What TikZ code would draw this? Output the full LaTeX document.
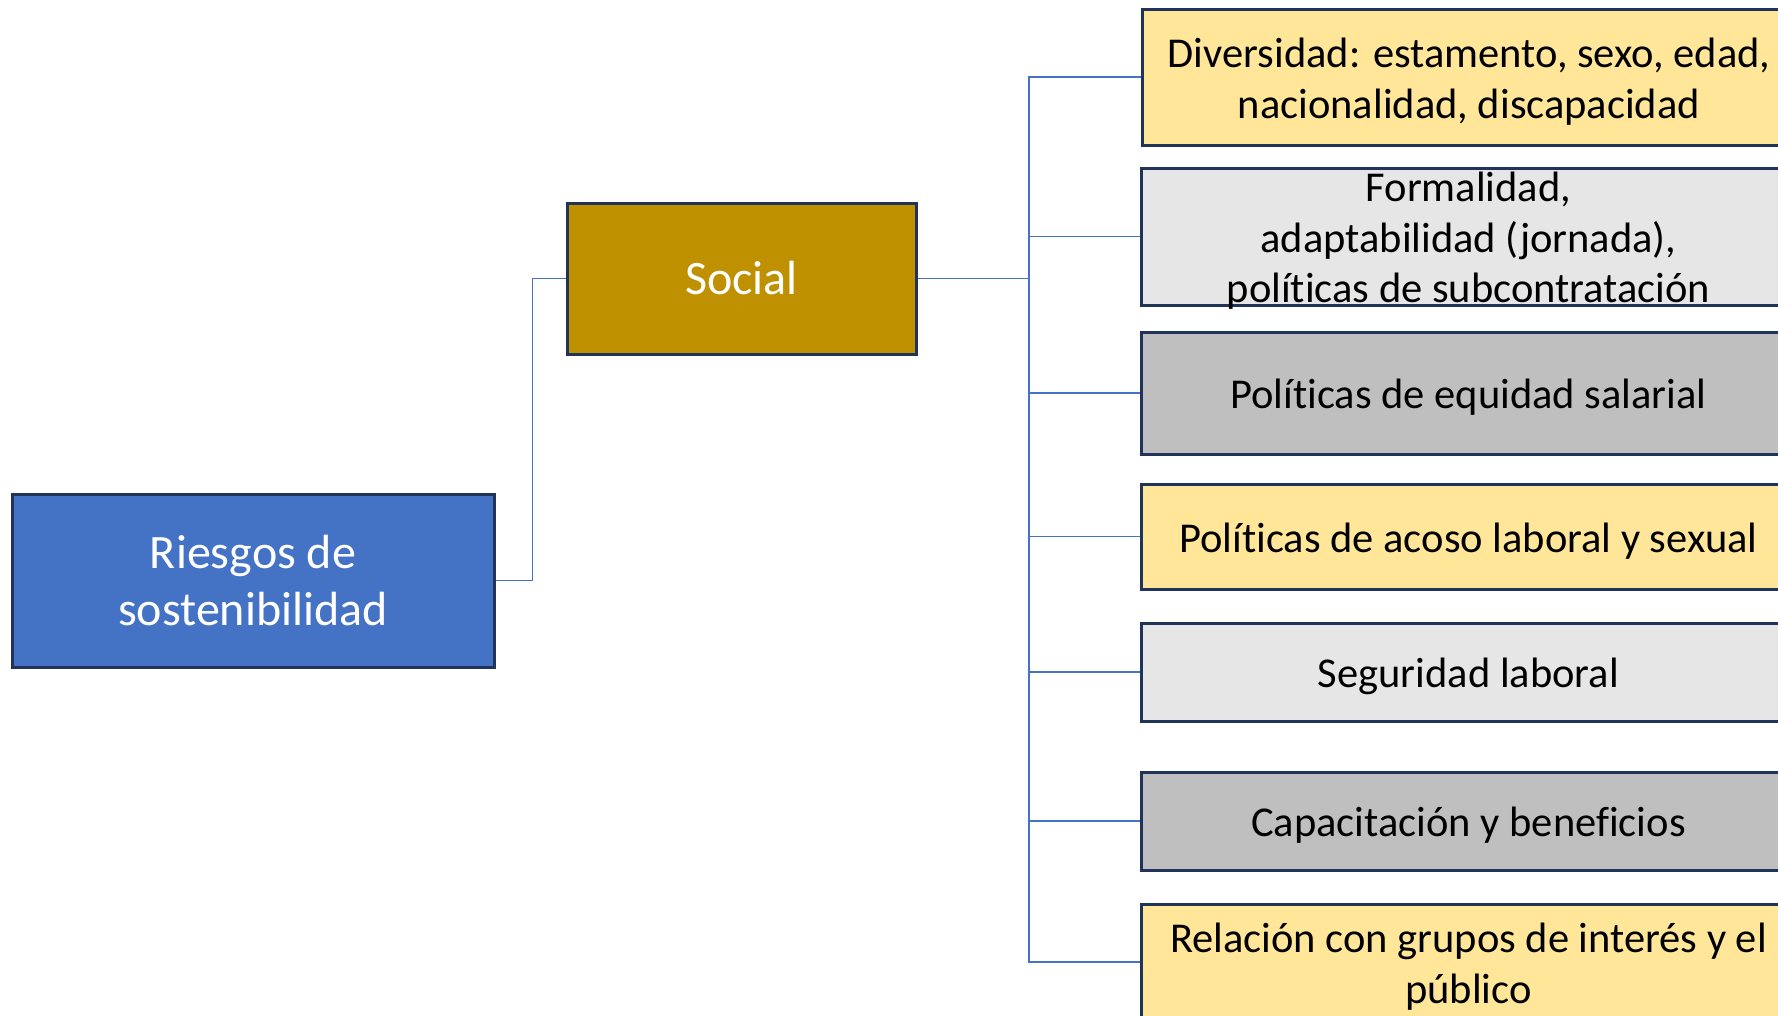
\documentclass[tikz,border=0pt]{standalone}
\usepackage{fontspec}
\setmainfont{Carlito}[Ligatures=NoCommon]
\definecolor{bluefill}{HTML}{4472C4}
\definecolor{goldfill}{HTML}{BF9000}
\definecolor{yellowfill}{HTML}{FFE699}
\definecolor{lightgrey}{HTML}{E7E6E6}
\definecolor{midgrey}{HTML}{BFBFBF}
\definecolor{navyline}{HTML}{1F3458}
\definecolor{connline}{HTML}{4472C4}
\tikzset{
  box/.style={draw=navyline, line width=3pt, rectangle, align=center, inner sep=0pt},
  mainbox/.style={box, text=white, font=\fontsize{48}{57}\selectfont},
  leaf/.style={box, minimum width=655pt},
  leaftext/.style={text=black, align=center, inner sep=0pt, yshift=-4.5pt, font=\fontsize{42.5}{50.5}\selectfont},
  conn/.style={draw=connline, line width=1.5pt}
}
\begin{document}
\begin{tikzpicture}[x=1pt,y=-1pt]
\clip (0,0) rectangle (1778,1015);
\fill[white] (0,0) rectangle (1778,1015);
\node[mainbox, fill=bluefill, minimum width=482pt, minimum height=173pt] (riesgos) at (253,580.5) {Riesgos de\\sostenibilidad};
\node[mainbox, fill=goldfill, minimum width=349pt, minimum height=151pt] (social) at (741.5,278.5) {Social};
\node[leaf, fill=yellowfill, minimum width=654pt, minimum height=136pt,
  label={[leaftext]center:{Diversidad: estamento, sexo, edad,\\nacionalidad, discapacidad}}] (b1) at (1469,77) {};
\node[leaf, fill=lightgrey, minimum height=137pt,
  label={[leaftext]center:{Formalidad,\\adaptabilidad (jornada),\\políticas de subcontratación}}] (b2) at (1468.5,236.5) {};
\node[leaf, fill=midgrey, minimum height=122pt,
  label={[leaftext]center:{Políticas de equidad salarial}}] (b3) at (1468.5,393) {};
\node[leaf, fill=yellowfill, minimum height=105pt,
  label={[leaftext]center:{Políticas de acoso laboral y sexual}}] (b4) at (1468.5,536.5) {};
\node[leaf, fill=lightgrey, minimum height=98pt,
  label={[leaftext]center:{Seguridad laboral}}] (b5) at (1468.5,672) {};
\node[leaf, fill=midgrey, minimum height=98pt,
  label={[leaftext]center:{Capacitación y beneficios}}] (b6) at (1468.5,821) {};
\node[leaf, fill=yellowfill, minimum height=116pt,
  label={[leaftext]center:{Relación con grupos de interés y el\\público}}] (b7) at (1468.5,962) {};
\coordinate (trunk) at (1029,278.5);
\draw[conn] (riesgos.east) -- ++(37,0) |- (social.west);
\draw[conn] (social.east) -- (trunk);
\foreach \b in {b1,b2,b3,b4,b5,b6,b7}{
  \draw[conn] (trunk) |- (\b.west);
}
\end{tikzpicture}
\end{document}
